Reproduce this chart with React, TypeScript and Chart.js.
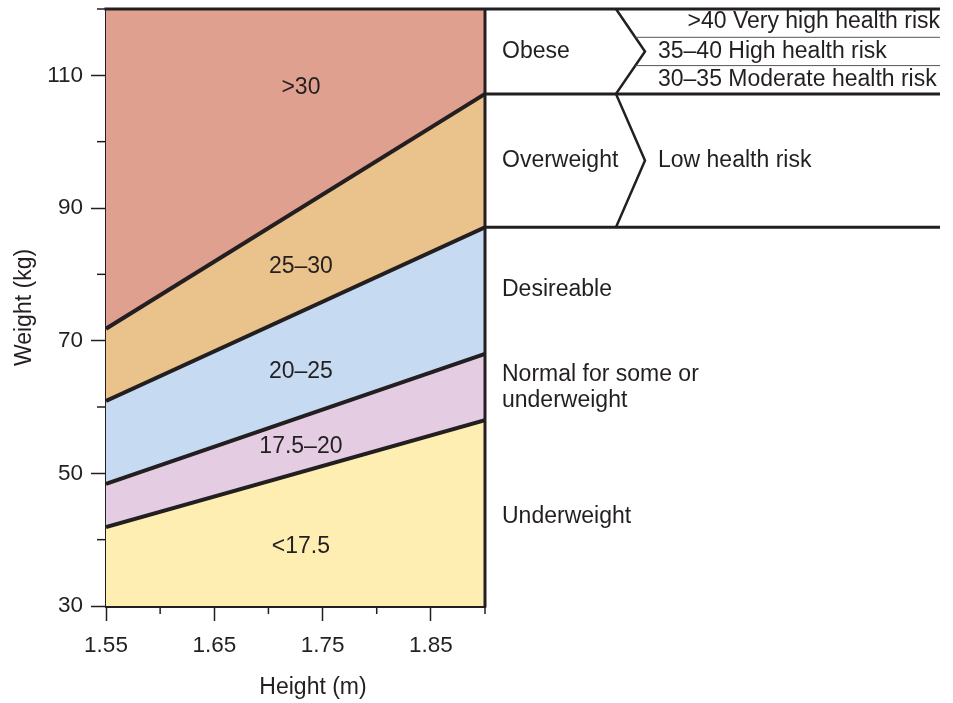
import React, { useEffect, useRef } from 'react';
import { Chart, registerables } from 'chart.js';

Chart.register(...registerables);

// Heights (m) at the two ends of each boundary line
const heights = [1.55, 1.9];
// Boundary lines (weight in kg)
const bmi17_5 = [41.9, 58.0];
const bmi20 = [48.4, 68.0];
const bmi25 = [60.9, 87.1];
const bmi30 = [71.8, 107.2];
const topEdge = [120, 120];

// Zone labels inside the plot and their anchor (data units)
const zoneLabels = ['<17.5', '17.5–20', '20–25', '25–30', '>30'];
const zoneLabelX = [1.73, 1.73, 1.73, 1.73, 1.73];
const zoneLabelY = [39.0, 54.0, 65.4, 81.1, 108.2];

// Ticks
const xMajorTicks = [1.55, 1.65, 1.75, 1.85];
const xMinorTicks = [1.6, 1.7, 1.8, 1.9];
const yMajorTicks = [30, 50, 70, 90, 110];
const yMinorTicks = [40, 60, 80, 100, 120];

// Right side category text
const obeseRisk = ['>40 Very high health risk', '35–40 High health risk', '30–35 Moderate health risk'];
const categoryText = ['Obese', 'Overweight', 'Desireable', 'Normal for some or', 'underweight', 'Underweight'];
const lowRiskText = 'Low health risk';

const INK = '#231F20';
const FONT = '"Liberation Sans", Arial, Helvetica, sans-serif';
const fills = ['#FFEEB2', '#E4CDE3', '#C6DAF1', '#E9C28C', '#E0A090'];

const pts = (ys: number[]) => heights.map((h, i) => ({ x: h, y: ys[i] }));

const annotations = {
  id: 'annotations',
  afterDraw(chart: any) {
    const { ctx, chartArea, scales } = chart;
    const { left, right, top, bottom } = chartArea;
    const x = scales.x;
    const y = scales.y;
    ctx.save();
    const xEnd = right + 455;

    // minor ticks
    ctx.strokeStyle = INK;
    ctx.lineWidth = 1.5;
    xMinorTicks.forEach((v) => {
      const px = x.getPixelForValue(v);
      ctx.beginPath();
      ctx.moveTo(px, bottom);
      ctx.lineTo(px, bottom + 8);
      ctx.stroke();
    });
    yMinorTicks.forEach((v) => {
      const py = y.getPixelForValue(v);
      ctx.beginPath();
      ctx.moveTo(left - 9, py);
      ctx.lineTo(left, py);
      ctx.stroke();
    });

    // top and right frame
    ctx.lineWidth = 3;
    ctx.beginPath();
    ctx.moveTo(left - 1.5, top);
    ctx.lineTo(xEnd, top);
    ctx.stroke();
    ctx.beginPath();
    ctx.moveTo(right, top);
    ctx.lineTo(right, bottom + 1.5);
    ctx.stroke();

    const yOb = y.getPixelForValue(bmi30[1]);
    const yOv = y.getPixelForValue(bmi25[1]);
    const yDe = y.getPixelForValue(bmi20[1]);
    const yUn = y.getPixelForValue(bmi17_5[1]);

    ctx.beginPath();
    ctx.moveTo(right, yOb);
    ctx.lineTo(xEnd, yOb);
    ctx.moveTo(right, yOv);
    ctx.lineTo(xEnd, yOv);
    ctx.stroke();

    const xc = right + 131;
    const xt = right + 160;
    ctx.lineWidth = 2.5;
    ctx.beginPath();
    ctx.moveTo(xc, top);
    ctx.lineTo(xt, (top + yOb) / 2);
    ctx.lineTo(xc, yOb);
    ctx.lineTo(xt, (yOb + yOv) / 2);
    ctx.lineTo(xc, yOv);
    ctx.stroke();

    // thin separators
    ctx.lineWidth = 1;
    ctx.strokeStyle = '#555';
    const third = (yOb - top) / 3;
    [top + third, top + 2 * third].forEach((yy, i) => {
      const half = (yOb - top) / 2;
      const d = i === 0 ? yy - top : yOb - yy;
      const sx = xc + (d / half) * (xt - xc);
      ctx.beginPath();
      ctx.moveTo(sx, yy);
      ctx.lineTo(xEnd, yy);
      ctx.stroke();
    });

    // texts
    ctx.fillStyle = INK;
    ctx.font = `23px ${FONT}`;
    ctx.textBaseline = 'middle';
    ctx.textAlign = 'right';
    ctx.fillText(obeseRisk[0], xEnd, top + third / 2 - 1);
    ctx.textAlign = 'left';
    ctx.fillText(obeseRisk[1], right + 173, top + third * 1.5);
    ctx.fillText(obeseRisk[2], right + 173, top + third * 2.5);
    const tx = right + 17;
    ctx.fillText(categoryText[0], tx, (top + yOb) / 2);
    ctx.fillText(categoryText[1], tx, (yOb + yOv) / 2);
    ctx.fillText(lowRiskText, right + 173, (yOb + yOv) / 2);
    ctx.fillText(categoryText[2], tx, (yOv + yDe) / 2 - 1);
    ctx.fillText(categoryText[3], tx, (yDe + yUn) / 2 - 12);
    ctx.fillText(categoryText[4], tx, (yDe + yUn) / 2 + 14);
    ctx.fillText(categoryText[5], tx, (yUn + bottom) / 2 + 4);

    // zone labels
    ctx.textAlign = 'center';
    zoneLabels.forEach((s, i) => {
      ctx.fillText(s, x.getPixelForValue(zoneLabelX[i]), y.getPixelForValue(zoneLabelY[i]));
    });

    // axis titles
    ctx.fillText('Height (m)', left + 207, bottom + 82);
    ctx.save();
    ctx.translate(25, (top + bottom) / 2);
    ctx.rotate(-Math.PI / 2);
    ctx.fillText('Weight (kg)', 0, 0);
    ctx.restore();

    ctx.restore();
  },
};

export default function App() {
  const ref = useRef<HTMLCanvasElement>(null);
  useEffect(() => {
    document.body.style.margin = '0';
    const line = (ys: number[], fill: any, bg: string, bw = 4) => ({
      data: pts(ys),
      fill,
      backgroundColor: bg,
      borderColor: INK,
      borderWidth: bw,
      pointRadius: 0,
      tension: 0,
    });
    const chart = new Chart(ref.current!, {
      type: 'line',
      data: {
        datasets: [
          line(bmi17_5, 'start', fills[0]),
          line(bmi20, '-1', fills[1]),
          line(bmi25, '-1', fills[2]),
          line(bmi30, '-1', fills[3]),
          line(topEdge, '-1', fills[4], 0),
        ],
      },
      options: {
        responsive: false,
        animation: false,
        events: [],
        layout: { padding: { left: 0, top: 9, right: 468, bottom: 0 } },
        plugins: {
          legend: { display: false },
          tooltip: { enabled: false },
          filler: { drawTime: 'beforeDatasetsDraw' },
        },
        scales: {
          x: {
            type: 'linear',
            min: 1.55,
            max: 1.9,
            afterFit: (s: any) => {
              s.height = 97;
              s.paddingLeft = 0;
              s.paddingRight = 0;
            },
            ticks: {
              stepSize: 0.05,
              autoSkip: false,
              maxRotation: 0,
              padding: 11,
              color: INK,
              font: { family: FONT, size: 22.5 },
              callback: (v: any) => {
                const r = Math.round(v * 100) / 100;
                return xMajorTicks.includes(r) ? r.toFixed(2) : null;
              },
            },
            grid: {
              drawOnChartArea: false,
              drawTicks: true,
              tickLength: 15,
              tickWidth: 1.5,
              tickColor: INK,
            },
            border: { display: true, color: INK, width: 3 },
          },
          y: {
            type: 'linear',
            min: 30,
            max: 120,
            afterFit: (s: any) => {
              s.width = 106;
              s.paddingTop = 0;
              s.paddingBottom = 0;
            },
            ticks: {
              stepSize: 10,
              autoSkip: false,
              padding: 8,
              color: INK,
              font: { family: FONT, size: 22.5 },
              callback: (v: any) => (yMajorTicks.includes(Math.round(v)) ? String(Math.round(v)) : null),
            },
            grid: {
              drawOnChartArea: false,
              drawTicks: true,
              tickLength: 15,
              tickWidth: 1.5,
              tickColor: INK,
            },
            border: { display: true, color: INK, width: 3 },
          },
        },
      },
      plugins: [annotations],
    });
    return () => chart.destroy();
  }, []);
  return (
    <div style={{ width: 953, height: 703 }}>
      <canvas ref={ref} width={953} height={703} style={{ display: 'block' }} />
    </div>
  );
}
